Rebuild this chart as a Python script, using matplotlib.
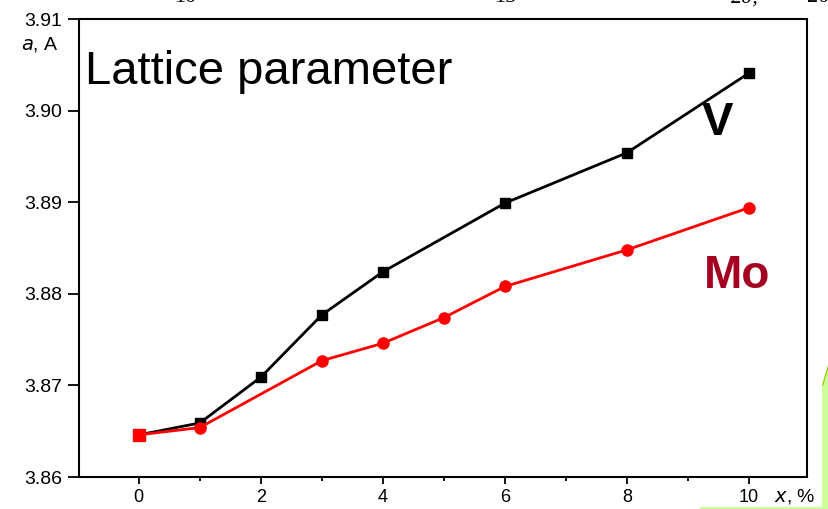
import matplotlib.pyplot as plt
from matplotlib.patches import Polygon

# lattice parameter a (A) vs dopant content x (%)
x_v = [0, 1, 2, 3, 4, 6, 8, 10]
a_v = [3.8646, 3.8659, 3.8709, 3.8777, 3.8824, 3.8899, 3.8954, 3.9041]

x_mo = [0, 1, 3, 4, 5, 6, 8, 10]
a_mo = [3.8646, 3.8654, 3.8727, 3.8746, 3.8774, 3.8808, 3.8848, 3.8894]

y_ticks = [3.86, 3.87, 3.88, 3.89, 3.90, 3.91]
x_ticks = [0, 2, 4, 6, 8, 10]

plt.rcParams['font.family'] = ['Liberation Sans', 'DejaVu Sans']

W, H = 829, 509
fig = plt.figure(figsize=(W / 100, H / 100), dpi=100)
ax = fig.add_axes([79 / W, 1 - 477 / H, (807 - 79) / W, (477 - 19) / H])

mo_red = '#ff0000'
ax.plot(x_v, a_v, color='black', lw=2, marker='s', ms=7.5, zorder=3)
ax.plot(x_mo, a_mo, color=mo_red, lw=2, marker='o', ms=8, zorder=4)
# first point of both series coincides, drawn as a red square
ax.plot(x_mo[:1], a_mo[:1], color=mo_red, marker='s', ms=8, ls='none', zorder=5)

ax.set_xlim(-0.98, 10.95)
ax.set_ylim(3.86, 3.91)
ax.set_xticks(x_ticks)
ax.set_xticks([1, 3, 5, 7, 9], minor=True)
ax.set_yticks(y_ticks)
ax.set_yticklabels(['%.2f' % v for v in y_ticks])
ax.tick_params(axis='y', which='major', direction='out', length=8, width=1.3,
               labelsize=14, pad=4)
ax.tick_params(axis='x', which='major', direction='out', length=5, width=1.3,
               labelsize=13, pad=3.5)
ax.tick_params(axis='x', which='minor', direction='out', length=3, width=1.3)
for s in ax.spines.values():
    s.set_linewidth(1.5)

ax.text(0.008, 0.885, 'Lattice parameter', transform=ax.transAxes, fontsize=34,
        ha='left', va='center')
ax.text(9.49, 3.8986, 'V', fontsize=34, fontweight='bold', ha='center', va='center')
ax.text(9.8, 3.8819, 'Mo', fontsize=33, fontweight='bold', color='#a50021',
        ha='center', va='center')

fig.text(40 / W, 1 - 45 / H, r'$\mathit{a}$, A', fontsize=14, ha='center', va='center')
fig.text(795 / W, 1 - 497 / H, r'$\mathit{x}$, %', fontsize=14, ha='center', va='center')

# remains of the slide above, cut by the edge
for xp, t in [(185, '10'), (505, '15'), (745, '20,'), (818, '20')]:
    fig.text(xp / W, 1 + 2 / H, t, fontsize=16, family='Liberation Serif',
             style='italic' if t == '20,' else 'normal', ha='center', va='center')

# green shape in the lower right corner
fig.patches.append(Polygon([(822 / W, 1 - 385 / H), (829 / W, 1 - 362 / H),
                            (829 / W, 0), (822 / W, 0)],
                           closed=True, transform=fig.transFigure,
                           facecolor='#ccff99', edgecolor='none'))
fig.patches.append(Polygon([(822 / W, 1 - 385 / H), (829 / W, 1 - 362 / H),
                            (829 / W, 1 - 366 / H), (823 / W, 1 - 386 / H)],
                           closed=True, transform=fig.transFigure,
                           facecolor='#99cc00', edgecolor='none'))
fig.patches.append(Polygon([(700 / W, 2 / H), (829 / W, 2 / H), (829 / W, 0), (700 / W, 0)],
                           closed=True, transform=fig.transFigure,
                           facecolor='#ccff99', edgecolor='none'))

fig.savefig('out.png', dpi=100)
